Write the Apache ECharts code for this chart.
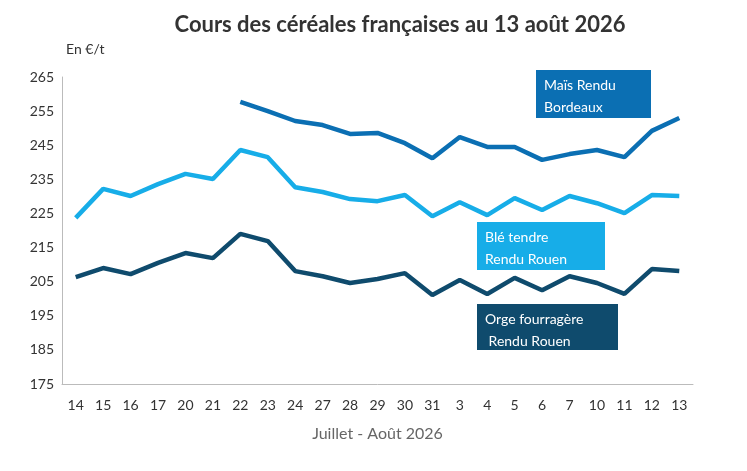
<!DOCTYPE html>
<html><head><meta charset="utf-8">
<script src="https://cdn.jsdelivr.net/npm/echarts@6/dist/echarts.min.js"></script>
<style>html,body{margin:0;padding:0;background:#fff}#chart{width:747px;height:471px}</style>
</head><body><div id="chart"></div>
<script>
const categories = ['14','15','16','17','20','21','22','23','24','27','28','29','30','31','3','4','5','6','7','10','11','12','13'];
const mais = [null,null,null,null,null,null,257.7,255,252.1,250.9,248.3,248.6,245.6,241.2,247.4,244.5,244.5,240.7,242.4,243.6,241.5,249.2,253];
const ble = [223.7,232.2,230.1,233.6,236.6,235.1,243.6,241.5,232.7,231.3,229.2,228.6,230.4,224.2,228.3,224.5,229.5,226,230.1,228,225.1,230.4,230.1];
const orge = [206.3,209,207.2,210.5,213.4,211.9,219,216.9,208.1,206.6,204.6,205.8,207.5,201.1,205.5,201.4,206.1,202.5,206.6,204.6,201.4,208.7,208.1];

const chart = echarts.init(document.getElementById('chart'));
const font = 'Lato, "Open Sans", sans-serif';
function box(left, top, w, h, color, text) {
    return {
        type: 'group', left: left, top: top, children: [
            { type: 'rect', shape: { width: w, height: h }, style: { fill: color } },
            { type: 'text', left: 8, top: 4, style: { text: text, fill: '#fff', font: '14px ' + font, lineHeight: 22 } }
        ]
    };
}
chart.setOption({
    animation: false,
    textStyle: { fontFamily: font },
    title: { text: 'Cours des céréales françaises au 13 août 2026', left: 395, textAlign: 'center', top: 9,
        textStyle: { fontSize: 22, fontWeight: 'bold', color: '#333', fontFamily: font } },
    grid: { left: 62, right: 54, top: 77, bottom: 87 },
    xAxis: {
        type: 'category', data: categories, boundaryGap: true,
        name: 'Juillet - Août 2026', nameLocation: 'middle', nameGap: 42,
        nameTextStyle: { fontSize: 16, color: '#666' },
        axisLine: { lineStyle: { color: '#bbb' } }, axisTick: { show: false },
        axisLabel: { fontSize: 14, color: '#333', margin: 14, interval: 0 }
    },
    yAxis: {
        type: 'value', min: 175, max: 265, interval: 10,
        name: 'En €/t', nameTextStyle: { fontSize: 14, color: '#333', align: 'left', padding: [0, 0, 6, 4] },
        axisLine: { show: true, lineStyle: { color: '#bbb' } }, splitLine: { show: false },
        axisLabel: { fontSize: 14, color: '#333' }
    },
    series: [
        { name: 'Maïs Rendu Bordeaux', type: 'line', data: mais, symbol: 'none', lineStyle: { width: 4.5, color: '#0b6fb3' } },
        { name: 'Blé tendre Rendu Rouen', type: 'line', data: ble, symbol: 'none', lineStyle: { width: 4.5, color: '#17ade8' } },
        { name: 'Orge fourragère Rendu Rouen', type: 'line', data: orge, symbol: 'none', lineStyle: { width: 4.5, color: '#0f4b6d' } }
    ],
    graphic: [
        box(536, 70, 115, 48, '#0b6fb3', 'Maïs Rendu\nBordeaux'),
        box(477, 222, 128, 48, '#17ade8', 'Blé tendre\nRendu Rouen'),
        box(477, 304, 141, 46, '#0f4b6d', 'Orge fourragère\n Rendu Rouen')
    ]
});
</script></body></html>
